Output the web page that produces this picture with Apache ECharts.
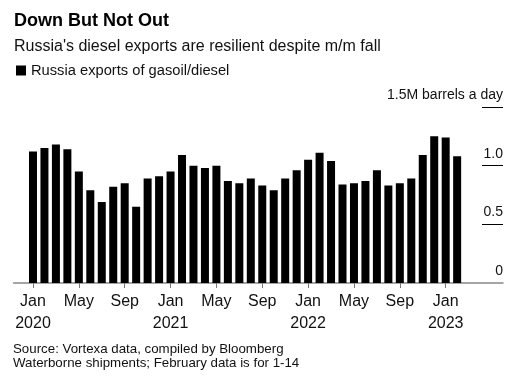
<!DOCTYPE html>
<html>
<head>
<meta charset="UTF-8">
<title>Down But Not Out</title>
<script src="https://cdn.jsdelivr.net/npm/echarts@6/dist/echarts.min.js"></script>
<style>
  body { margin: 0; background: #fff; }
  #root { width: 522px; height: 376px; }
</style>
</head>
<body>
<div id="root"></div>
<script>
// monthly, Jan 2020 .. Feb 2023
var months = [
  '2020-01','2020-02','2020-03','2020-04','2020-05','2020-06','2020-07','2020-08','2020-09','2020-10','2020-11','2020-12',
  '2021-01','2021-02','2021-03','2021-04','2021-05','2021-06','2021-07','2021-08','2021-09','2021-10','2021-11','2021-12',
  '2022-01','2022-02','2022-03','2022-04','2022-05','2022-06','2022-07','2022-08','2022-09','2022-10','2022-11','2022-12',
  '2023-01','2023-02'
];
// million barrels a day
var exportsMbd = [
  1.12, 1.15, 1.18, 1.14, 0.95, 0.79, 0.69, 0.82, 0.85, 0.65, 0.89, 0.91,
  0.95, 1.09, 1.00, 0.98, 1.00, 0.87, 0.85, 0.89, 0.83, 0.79, 0.89, 0.96,
  1.05, 1.11, 1.04, 0.84, 0.85, 0.87, 0.96, 0.83, 0.85, 0.89, 1.09, 1.25,
  1.24, 1.08
];
var tickIdx = [0, 4, 8, 12, 16, 20, 24, 28, 32, 36];
var tickLabels = ['Jan\n2020', 'May', 'Sep', 'Jan\n2021', 'May', 'Sep', 'Jan\n2022', 'May', 'Sep', 'Jan\n2023'];
var yTicks = [0.5, 1.0, 1.5];

var FONT = '"Liberation Sans", Arial, sans-serif';

var chart = echarts.init(document.getElementById('root'));

chart.setOption({
  animation: false,
  textStyle: { fontFamily: FONT },
  title: [
    { text: 'Down But Not Out', left: 14, top: 12, padding: 0,
      textStyle: { fontSize: 18, fontWeight: 'bold', color: '#000', fontFamily: FONT } },
    { text: "Russia's diesel exports are resilient despite m/m fall", left: 14, top: 39, padding: 0,
      textStyle: { fontSize: 16, fontWeight: 'normal', color: '#111', fontFamily: FONT } },
    { text: 'Source: Vortexa data, compiled by Bloomberg\nWaterborne shipments; February data is for 1-14',
      left: 13, top: 342, padding: 0,
      textStyle: { fontSize: 13.3, fontWeight: 'normal', color: '#111', lineHeight: 14.5, fontFamily: FONT } }
  ],
  legend: {
    left: 16, top: 63, padding: 0,
    icon: 'rect', itemWidth: 10, itemHeight: 10, itemGap: 6,
    textStyle: { fontSize: 14.7, color: '#111', fontFamily: FONT, padding: [0, 0, 0, 0] }
  },
  grid: { left: 13.5, right: 19, top: 107, bottom: 93 },
  xAxis: {
    type: 'value',
    min: -1.7,
    max: 41,
    splitLine: { show: false },
    axisLine: { show: true, onZero: false, lineStyle: { color: '#888', width: 1.5 } },
    axisTick: { show: true, customValues: tickIdx, length: 5, lineStyle: { color: '#777' } },
    axisLabel: {
      customValues: tickIdx,
      margin: 8,
      color: '#111',
      fontSize: 16,
      lineHeight: 22,
      fontFamily: FONT,
      formatter: function (v) {
        var k = tickIdx.indexOf(Math.round(v));
        return k >= 0 ? tickLabels[k] : '';
      }
    }
  },
  yAxis: {
    type: 'value',
    position: 'right',
    min: 0,
    max: 1.5,
    splitLine: { show: false },
    axisLine: { show: false, onZero: false },
    axisTick: { show: true, inside: true, length: 21, customValues: yTicks, lineStyle: { color: '#000', width: 1 } },
    axisLabel: {
      inside: true,
      margin: 0,
      customValues: [0, 0.5, 1.0, 1.5],
      color: '#111',
      fontSize: 14,
      fontFamily: FONT,
      verticalAlign: 'bottom',
      padding: [0, 0, 5, 0],
      formatter: function (v) {
        if (v === 1.5) return '1.5M barrels a day';
        if (v === 0) return '0';
        return v.toFixed(1);
      }
    }
  },
  series: [{
    name: 'Russia exports of gasoil/diesel',
    type: 'bar',
    barWidth: 8,
    itemStyle: { color: '#000' },
    data: exportsMbd.map(function (v, i) { return [i, v]; })
  }]
});
</script>
</body>
</html>
